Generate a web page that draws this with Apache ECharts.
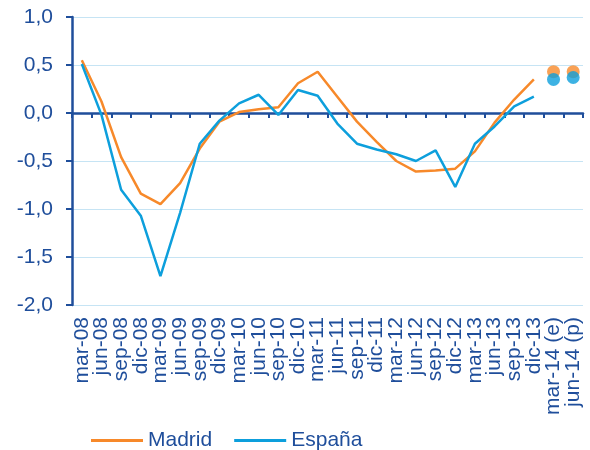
<!DOCTYPE html>
<html>
<head>
<meta charset="utf-8">
<script src="https://cdn.jsdelivr.net/npm/echarts@6/dist/echarts.min.js"></script>
<style>
  html, body { margin: 0; padding: 0; background: #ffffff; }
  #chart { width: 590px; height: 450px; }
</style>
</head>
<body>
<div id="chart"></div>
<script>
// trimestres
const categories = [
  'mar-08', 'jun-08', 'sep-08', 'dic-08',
  'mar-09', 'jun-09', 'sep-09', 'dic-09',
  'mar-10', 'jun-10', 'sep-10', 'dic-10',
  'mar-11', 'jun-11', 'sep-11', 'dic-11',
  'mar-12', 'jun-12', 'sep-12', 'dic-12',
  'mar-13', 'jun-13', 'sep-13', 'dic-13',
  'mar-14 (e)', 'jun-14 (p)'
]
// datos observados
const madrid = [
  0.55, 0.12, -0.46, -0.84,
  -0.95, -0.73, -0.37, -0.09,
  0.01, 0.04, 0.06, 0.31,
  0.43, 0.17, -0.09, -0.30,
  -0.50, -0.61, -0.60, -0.58,
  -0.40, -0.10, 0.14, 0.35,
  null, null
]
const espana = [
  0.51, -0.02, -0.80, -1.07,
  -1.70, -1.04, -0.32, -0.08,
  0.10, 0.19, -0.02, 0.24,
  0.18, -0.11, -0.32, -0.38,
  -0.43, -0.50, -0.39, -0.77,
  -0.32, -0.14, 0.07, 0.17,
  null, null
]
// previsiones (puntos)
const madridPrev = [null, null, null, null, null, null, null, null, null, null, null, null, null, null, null, null, null, null, null, null, null, null, null, null, 0.43, 0.43]
const espanaPrev = [null, null, null, null, null, null, null, null, null, null, null, null, null, null, null, null, null, null, null, null, null, null, null, null, 0.35, 0.37]
const yTicks = { min: -2, max: 1, interval: 0.5 }

const orange = '#f7892a'
const blue = '#0d9fdc'
const dark = '#1f4e9b'
const font = 'Liberation Sans, Arial, sans-serif'

const chart = echarts.init(document.getElementById('chart'))
chart.setOption({
  animation: false,
  textStyle: { fontFamily: font },
  grid: { left: 72, right: 7, top: 17, bottom: 145, containLabel: false },
  legend: {
    left: 86,
    top: 425,
    icon: 'rect',
    itemWidth: 52,
    itemHeight: 3,
    itemGap: 22,
    data: ['Madrid', 'España'],
    textStyle: { color: dark, fontSize: 21, fontFamily: font }
  },
  xAxis: [
    {
      type: 'category',
      data: categories,
      position: 'bottom',
      boundaryGap: true,
      axisLine: { show: false, onZero: false },
      axisTick: { show: false },
      axisLabel: {
        interval: 0,
        rotate: 90,
        margin: 12,
        color: dark,
        fontSize: 21,
        fontFamily: font
      }
    },
    {
      type: 'category',
      data: categories,
      position: 'bottom',
      boundaryGap: true,
      axisLine: { show: true, onZero: true, lineStyle: { color: dark, width: 2.5 } },
      axisTick: { show: true, inside: false, length: 5, interval: 0, lineStyle: { color: dark, width: 2 } },
      axisLabel: { show: false }
    }
  ],
  yAxis: {
    type: 'value',
    min: yTicks.min,
    max: yTicks.max,
    interval: yTicks.interval,
    axisLine: { show: true, lineStyle: { color: dark, width: 2.5 } },
    axisTick: { show: true, length: 6, lineStyle: { color: dark, width: 2 } },
    axisLabel: {
      margin: 19,
      color: dark,
      fontSize: 21,
      fontFamily: font,
      formatter: v => v.toFixed(1).replace('.', ',')
    },
    splitLine: { show: true, lineStyle: { color: '#c6e4f4', width: 1 } }
  },
  series: [
    {
      name: 'Madrid',
      type: 'line',
      data: madrid,
      symbol: 'none',
      itemStyle: { color: orange },
      lineStyle: { color: orange, width: 2.5 },
      z: 3
    },
    {
      name: 'España',
      type: 'line',
      data: espana,
      symbol: 'none',
      itemStyle: { color: blue },
      lineStyle: { color: blue, width: 2.5 },
      z: 4
    },
    {
      name: 'Madrid prev',
      type: 'scatter',
      data: madridPrev,
      symbolSize: 13,
      itemStyle: { color: orange },
      z: 5
    },
    {
      name: 'España prev',
      type: 'scatter',
      data: espanaPrev,
      symbolSize: 13,
      itemStyle: { color: blue },
      z: 6
    }
  ]
})
</script>
</body>
</html>
